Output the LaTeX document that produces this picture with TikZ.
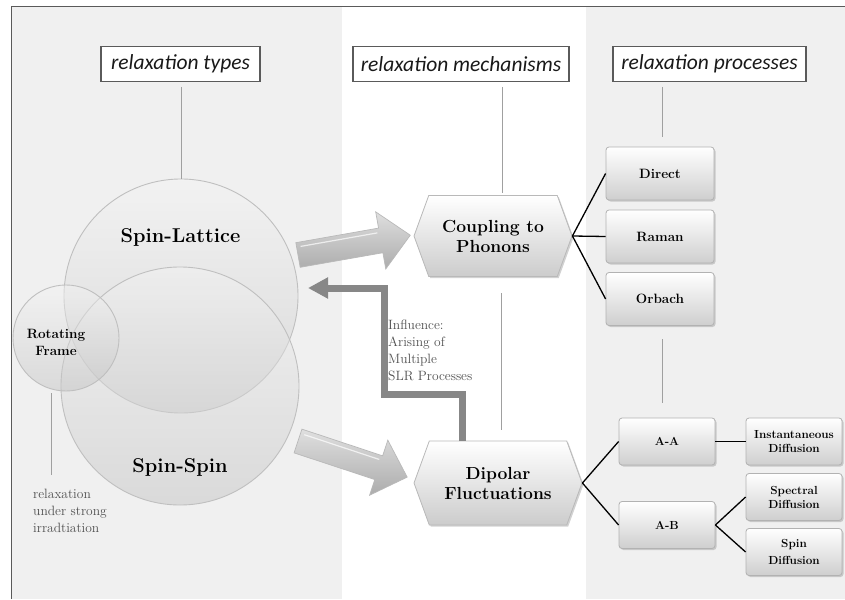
\documentclass[tikz,border=0pt]{standalone}
\usepackage{fontspec}
\newfontfamily\hdr{Carlito}
\usetikzlibrary{shapes.symbols,shadows,arrows.meta,calc}
\definecolor{panelbg}{RGB}{240,240,240}
\definecolor{framec}{RGB}{90,90,90}
\definecolor{guidec}{RGB}{160,160,160}
\definecolor{bendc}{RGB}{135,135,135}
\definecolor{textgray}{RGB}{80,80,80}
\begin{document}
\begin{tikzpicture}[x=1pt,y=-1pt,
  hdrbox/.style={draw=framec, fill=white, line width=1.1pt, minimum height=35pt, inner sep=2pt,
    font=\hdr\itshape\fontsize{21.5}{24}\selectfont, text=black!90},
  guide/.style={draw=guidec, line width=0.8pt},
  bubble/.style={circle, draw=gray!50, line width=0.9pt, top color=gray!8, bottom color=gray!50,
    fill opacity=0.45, text opacity=1},
  bigtext/.style={font=\bfseries\fontsize{20}{23}\selectfont, text=black},
  hexshape/.style={signal, signal to=east and west, signal pointer angle=140, draw=gray!55,
    line width=0.8pt, top color=white, bottom color=gray!40, align=center, inner sep=2pt,
    font=\bfseries\fontsize{17.5}{20}\selectfont, text=black,
    drop shadow={opacity=0.35, shadow xshift=1.5pt, shadow yshift=-1.5pt}},
  procbox/.style={rectangle, rounded corners=3pt, draw=gray!60, line width=0.8pt,
    top color=white, bottom color=gray!38, align=center, inner sep=1pt, text=black,
    drop shadow={opacity=0.35, shadow xshift=1.5pt, shadow yshift=-1.5pt}},
  bigbox/.style={procbox, minimum width=108pt, minimum height=53pt, font=\bfseries\fontsize{13.5}{15}\selectfont},
  smallbox/.style={procbox, minimum width=96pt, minimum height=47pt, font=\bfseries\fontsize{11.7}{14}\selectfont},
  tree/.style={draw=black, line width=1.3pt},
  blockarrow/.style={draw=gray!55, line width=0.7pt, top color=gray!25, bottom color=gray!65},
  bentarrow/.style={draw=bendc, line width=7pt, -{Triangle[width=20pt,length=20pt]}},
  note/.style={align=left, text=textgray, font=\fontsize{13.5}{17}\selectfont, inner sep=0pt}
]
\useasboundingbox (0,0) rectangle (845,599);
\fill[white] (0,0) rectangle (845,599);
\fill[panelbg] (11,7) rectangle (342,599);
\fill[panelbg] (586,7) rectangle (845,599);
\draw[framec, line width=1pt] (11,599) -- (11,7) -- (845,7);

% headers
\node[hdrbox, minimum width=159pt] (htypes) at (180.5,64) {relaxation types};
\node[hdrbox, minimum width=216pt] (hmech) at (461,64) {relaxation mechanisms};
\node[hdrbox, minimum width=193pt] (hproc) at (709.5,64) {relaxation processes};

% circles
\node[bubble, minimum size=234pt] (sl) at (181,296) {};
\node[bubble, minimum size=238pt] (ss) at (180,386) {};
\node[bubble, minimum size=106pt] (rf) at (66,338) {};
\node[bigtext] (slt) at (180.5,237) {Spin-Lattice};
\node[bigtext] (sst) at (180,467) {Spin-Spin};
\node[align=center, font=\bfseries\fontsize{13.5}{17}\selectfont, text=black] (rft) at (56,342) {Rotating\\Frame};

% guide lines
\coordinate (g1) at (181,87);
\draw[guide] (g1) -- (sl.north);
\coordinate (g2) at (502,87);
\coordinate (g2e) at (502,193);
\draw[guide] (g2) -- (g2e);
\coordinate (g3) at (501,293);
\coordinate (g3e) at (501,430);
\draw[guide] (g3) -- (g3e);
\coordinate (g4) at (662,87);
\coordinate (g4e) at (662,137);
\draw[guide] (g4) -- (g4e);
\coordinate (g5) at (662,339);
\coordinate (g5e) at (662,403);
\draw[guide] (g5) -- (g5e);
\coordinate (g6) at (51,393);
\coordinate (g6e) at (51,475);
\draw[guide] (g6) -- (g6e);

\node[note, anchor=north west] (rnote) at (33,489) {relaxation\\under strong\\irradtiation};

% block arrows
\begin{scope}[shift={(298,255)}, rotate=10]
\path[blockarrow] (0,-12.5) -- (84,-12.5) -- (84,-29) -- (114,0) -- (84,29) -- (84,12.5) -- (0,12.5) -- cycle;
\draw[white, opacity=0.7, line width=1.2pt] (4,-8) -- (82,-8);
\end{scope}
\begin{scope}[shift={(298,441)}, rotate=-18.3]
\path[blockarrow] (0,-12.5) -- (85,-12.5) -- (85,-29) -- (115,0) -- (85,29) -- (85,12.5) -- (0,12.5) -- cycle;
\draw[white, opacity=0.7, line width=1.2pt] (4,-8) -- (83,-8);
\end{scope}

% hexagons
\node[hexshape, minimum width=158pt, minimum height=81pt] (cp) at (493,236) {Coupling to\\Phonons};
\node[hexshape, minimum width=168pt, minimum height=84pt] (dp) at (498,483) {Dipolar\\Fluctuations};

% bent arrow
\coordinate (bstart) at (462,441);
\coordinate (btip) at (308,288);
\draw[bentarrow] (bstart) -- (462,394) -- (384,394) -- (384,288) -- (btip);
\node[note, anchor=north west] (infl) at (388,320) {Influence:\\Arising of\\Multiple\\SLR Processes};

% process boxes
\node[bigbox] (direct) at (660,173.5) {Direct};
\node[bigbox] (raman) at (660,236.5) {Raman};
\node[bigbox] (orbach) at (660,299) {Orbach};
\node[smallbox] (aa) at (667,441.5) {A-A};
\node[smallbox] (ab) at (667,525) {A-B};
\node[smallbox] (inst) at (794,441.5) {Instantaneous\\Diffusion};
\node[smallbox] (spec) at (794,497) {Spectral\\Diffusion};
\node[smallbox, font=\bfseries\fontsize{11.7}{17}\selectfont] (spin) at (794,552) {Spin\\Diffusion};

% tree lines
\draw[tree] (cp.east) -- (direct.west);
\draw[tree] (cp.east) -- (raman.west);
\draw[tree] (cp.east) -- (orbach.west);
\draw[tree] (dp.east) -- (aa.west);
\draw[tree] (dp.east) -- (ab.west);
\draw[tree] (aa.east) -- (inst.west);
\draw[tree] (ab.east) -- (spec.west);
\draw[tree] (ab.east) -- (spin.west);
\end{tikzpicture}
\end{document}
